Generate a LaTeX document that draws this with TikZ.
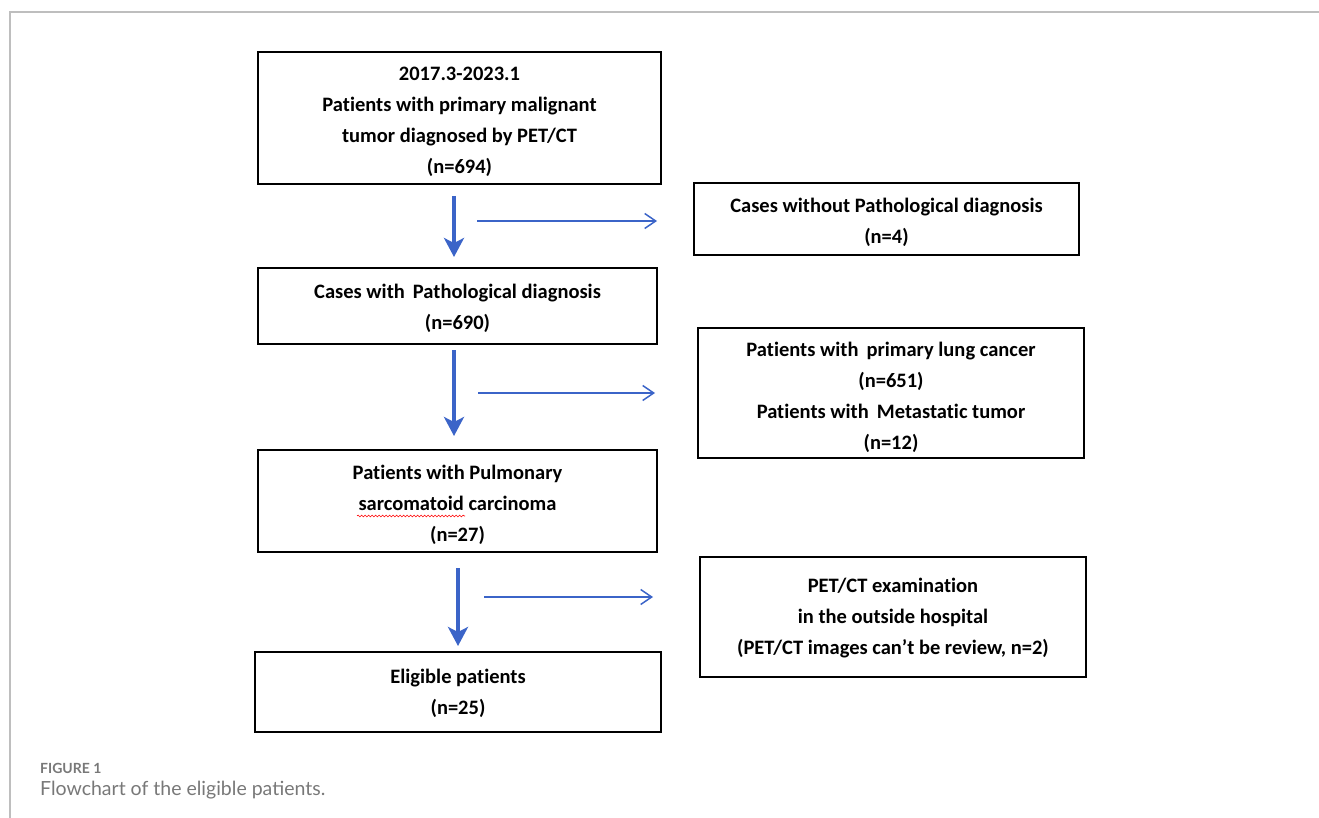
\documentclass[tikz,border=0pt]{standalone}
\usepackage{fontspec}
\setmainfont{Carlito}[Ligatures={NoCommon}]
\newfontfamily\capfont{Lato}
\usetikzlibrary{arrows.meta,decorations.pathmorphing}
\definecolor{arrowblue}{RGB}{59,100,200}
\definecolor{framegray}{RGB}{190,190,190}
\definecolor{capgray}{RGB}{120,120,120}
\tikzset{
  flowbox/.style={draw=black,line width=1.6pt,inner sep=0pt},
  boxtext/.style={inner sep=0pt,align=center,
    font=\fontsize{20.5}{31}\selectfont\bfseries},
  downarrow/.style={draw=arrowblue,line width=3.6pt,
    -{Stealth[width=20pt,length=19pt,inset=5pt]}},
  sidearrow/.style={draw=arrowblue,line width=1.5pt,
    -{Straight Barb[width=15pt,length=11pt,line width=1.5pt]}},
}
\begin{document}
\begin{tikzpicture}[x=1pt,y=-1pt]
\useasboundingbox (0,0) rectangle (1319,818);
% frame
\draw[framegray,line width=1.5pt] (10,818) -- (10,12) -- (1319,12);
% boxes
\node[flowbox,minimum width=403pt,minimum height=132pt] (b1) at (459.5,118) {};
\node[flowbox,minimum width=385pt,minimum height=72pt] (b2) at (886.5,219) {};
\node[flowbox,minimum width=399pt,minimum height=76pt] (b3) at (457.5,306) {};
\node[flowbox,minimum width=386pt,minimum height=130pt] (b4) at (891,393) {};
\node[flowbox,minimum width=399pt,minimum height=102pt] (b5) at (457.5,501) {};
\node[flowbox,minimum width=386pt,minimum height=120pt] (b6) at (893,617) {};
\node[flowbox,minimum width=406pt,minimum height=80pt] (b7) at (458,692) {};
% texts
\node[boxtext] (t1) at ([yshift=-4pt]b1.center)
  {2017.3-2023.1\\Patients with primary malignant\\tumor diagnosed by PET/CT\\(n=694)};
\node[boxtext] (t2) at ([yshift=-3pt]b2.center)
  {Cases without Pathological diagnosis\\(n=4)};
\node[boxtext] (t3) at ([yshift=-2pt]b3.center)
  {Cases with\, Pathological diagnosis\\(n=690)};
\node[boxtext] (t4) at ([yshift=-4pt]b4.center)
  {Patients with\, primary lung cancer\\(n=651)\\Patients with\, Metastatic tumor\\(n=12)};
\node[boxtext] (t5) at ([yshift=-4pt]b5.center)
  {Patients with Pulmonary\\sarcomatoid carcinoma\\(n=27)};
\node[boxtext] (t6) at ([yshift=-1pt]b6.center)
  {PET/CT examination\\in the outside hospital\\(PET/CT images can’t be review, n=2)};
\node[boxtext] (t7) at ([yshift=-1pt]b7.center)
  {Eligible patients\\(n=25)};
% spell-check squiggle
\draw[red,line width=0.6pt,decorate,decoration={snake,amplitude=0.9pt,segment length=3.5pt}]
  (357,516) -- (465,516);
% arrow coordinates
\coordinate (d1s) at (454,196); \coordinate (d1e) at (454,257);
\coordinate (h1s) at (477,221); \coordinate (h1e) at (657,221);
\coordinate (d2s) at (454,350); \coordinate (d2e) at (454,436);
\coordinate (h2s) at (478,393); \coordinate (h2e) at (655,393);
\coordinate (d3s) at (458,568); \coordinate (d3e) at (458,646);
\coordinate (h3s) at (484,597); \coordinate (h3e) at (653,597);
\draw[downarrow] (d1s) -- (d1e);
\draw[sidearrow] (h1s) -- (h1e);
\draw[downarrow] (d2s) -- (d2e);
\draw[sidearrow] (h2s) -- (h2e);
\draw[downarrow] (d3s) -- (d3e);
\draw[sidearrow] (h3s) -- (h3e);
% caption
\node[anchor=base west,inner sep=0pt,text=capgray,font=\capfont\fontsize{14}{16}\selectfont\bfseries] (cap1) at (40,773) {FIGURE 1};
\node[anchor=base west,inner sep=0pt,text=capgray,font=\capfont\fontsize{19.5}{22}\selectfont] (cap2) at (40,795) {Flowchart of the eligible patients.};
\end{tikzpicture}
\end{document}
